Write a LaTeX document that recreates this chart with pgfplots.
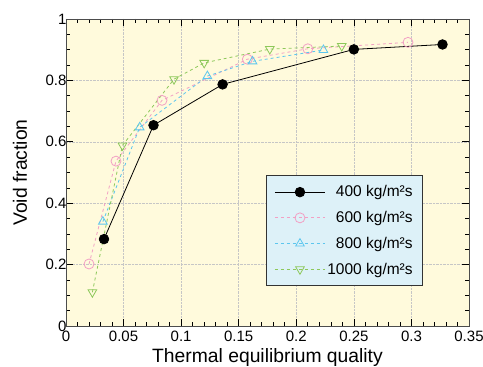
\documentclass[border=0pt]{standalone}
\usepackage{pgfplots}
\pgfplotsset{compat=1.18}
\usepackage{fontspec}
\setmainfont{Liberation Sans}
\definecolor{bgy}{HTML}{FFFADC}
\definecolor{legb}{HTML}{DDF1F8}
\definecolor{cpink}{HTML}{F2A0C4}
\definecolor{ccyan}{HTML}{5CC6EE}
\definecolor{cgreen}{HTML}{8DC85A}
\begin{document}
\begin{tikzpicture}
\begin{axis}[
  scale only axis,
  width=403pt, height=307pt,
  xmin=0, xmax=0.35, ymin=0, ymax=1,
  xtick={0,0.05,...,0.35},
  xticklabels={0,0.05,0.1,0.15,0.2,0.25,0.3,0.35},
  ytick={0,0.2,0.4,0.6,0.8,1},
  yticklabels={0,0.2,0.4,0.6,0.8,1},
  minor x tick num=4,
  minor y tick num=3,
  tick align=inside,
  major tick length=7pt,
  minor tick length=4pt,
  every tick/.style={black, line width=0.6pt},
  axis background/.style={fill=bgy},
  axis line style={draw=black!70, line width=0.8pt},
  grid=major,
  major grid style={densely dotted, gray!45, line width=0.5pt},
  tick label style={font=\fontsize{15}{15}\selectfont},
  yticklabel style={xshift=4pt},
  xticklabel style={yshift=-1pt},
  xlabel={Thermal equilibrium quality},
  ylabel={Void fraction},
  every axis x label/.style={at={(axis description cs:0.5,0)}, anchor=center, yshift=-32pt, font=\fontsize{19.3}{20}\selectfont},
  every axis y label/.style={at={(axis description cs:0,0.5)}, rotate=90, anchor=center, yshift=46pt, font=\fontsize{19.3}{20}\selectfont},
  legend style={at={(0.886,0.130)}, anchor=south east, fill=legb, draw=black!80, line width=0.8pt,
    font=\fontsize{15.5}{16}\selectfont, row sep=9pt, inner xsep=8pt, inner ysep=8pt},
  legend cell align=right,
  legend image code/.code={\draw[mark repeat=2,mark phase=2,#1] plot coordinates {(0pt,0pt) (25pt,0pt) (50pt,0pt)};},
]
\addplot[black, line width=0.8pt, mark=*, mark size=4.8pt, mark options={solid, fill=black}]
coordinates {(0.033,0.283) (0.076,0.654) (0.136,0.787) (0.250,0.901) (0.327,0.917)};
\addlegendentry{400 kg/m²s}
\addplot[cpink, dashed, line width=0.8pt, mark=o, mark size=5pt, mark options={solid, line width=0.8pt}]
coordinates {(0.020,0.202) (0.0434,0.537) (0.0834,0.735) (0.1575,0.869) (0.210,0.903) (0.297,0.924)};
\addlegendentry{600 kg/m²s}
\addplot[ccyan, dashed, line width=0.8pt, mark=triangle, mark size=5pt, mark options={solid, line width=0.8pt}]
coordinates {(0.032,0.340) (0.064,0.647) (0.1228,0.814) (0.162,0.862) (0.2236,0.899)};
\addlegendentry{800 kg/m²s}
\addplot[cgreen, dashed, line width=0.8pt, mark=triangle, mark size=5pt, mark options={solid, rotate=180, line width=0.8pt}]
coordinates {(0.0229,0.110) (0.049,0.588) (0.0938,0.804) (0.120,0.857) (0.177,0.902) (0.2395,0.912)};
\addlegendentry{1000 kg/m²s}
\end{axis}
\pgfresetboundingbox
\path[use as bounding box] ([xshift=-66pt,yshift=-41pt]current axis.south west) rectangle ([xshift=14pt,yshift=19pt]current axis.north east);
\end{tikzpicture}
\end{document}
